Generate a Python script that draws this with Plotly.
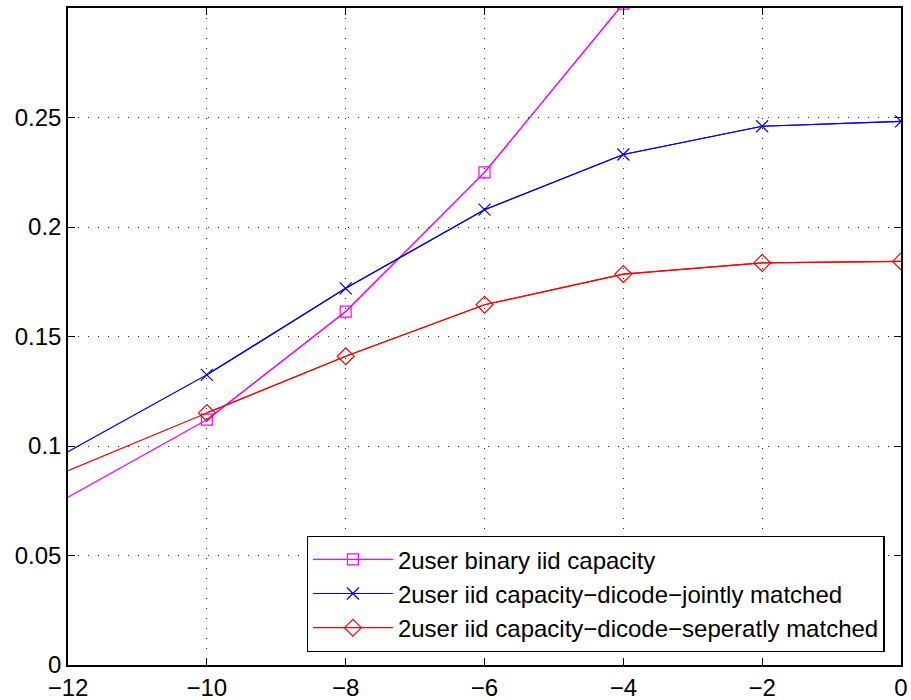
import plotly.graph_objects as go

x_vals = [-12, -10, -8, -6, -4, -2, 0]
binary_x = [-12, -10, -8, -6, -4]
binary_iid = [0.0766, 0.112, 0.1614, 0.2249, 0.302]
jointly = [0.0974, 0.1325, 0.172, 0.2079, 0.2331, 0.246, 0.2482]
seperatly = [0.0887, 0.1151, 0.141, 0.1645, 0.1785, 0.1836, 0.1843]

names = ["2user binary iid capacity",
         "2user iid capacity\u2212dicode\u2212jointly matched",
         "2user iid capacity\u2212dicode\u2212seperatly matched"]
colors = ["#ff00ff", "#0000ff", "#ff0000"]
symbols = ["square-open", "x-thin-open", "diamond-open"]
sizes = [11, 12, 13]

FONT = "Liberation Sans, Arial, Helvetica, sans-serif"

fig = go.Figure()
series = [(binary_x, binary_iid), (x_vals, jointly), (x_vals, seperatly)]
for i, (xs, ys) in enumerate(series):
    # full line (extends to left edge, no markers at the edge point)
    fig.add_trace(go.Scatter(x=xs, y=ys, mode="lines",
                             line=dict(color=colors[i], width=1.2),
                             showlegend=False, hoverinfo="skip"))
    fig.add_trace(go.Scatter(x=xs[1:], y=ys[1:], mode="lines+markers", name=names[i],
                             line=dict(color=colors[i], width=1.2),
                             marker=dict(symbol=symbols[i], size=sizes[i], color=colors[i],
                                         line=dict(color=colors[i], width=1.2))))

axis_common = dict(
    showline=True, linecolor="black", linewidth=1.5, mirror="ticks",
    ticks="inside", ticklen=7, tickwidth=1.2, tickcolor="black",
    showgrid=True, gridcolor="#222222", gridwidth=1, griddash="1px,9px",
    zeroline=False, tickfont=dict(family=FONT, size=24, color="black"),
    automargin=False,
)

fig.update_xaxes(range=[-12, 0], tickmode="array", tickvals=[-12, -10, -8, -6, -4, -2, 0],
                 ticktext=["\u221212", "\u221210", "\u22128", "\u22126", "\u22124", "\u22122", "0"],
                 **axis_common)
fig.update_yaxes(range=[0, 0.3], tickmode="array", tickvals=[0, 0.05, 0.1, 0.15, 0.2, 0.25],
                 ticktext=["0", "0.05", "0.1", "0.15", "0.2", "0.25"], **axis_common)

fig.update_layout(
    width=911, height=700,
    margin=dict(l=68, r=10, t=8, b=35),
    paper_bgcolor="white", plot_bgcolor="white",
    font=dict(family=FONT, size=24, color="black"),
    legend=dict(x=(306.7 - 68) / 833, y=(664.7 - 651.7) / 656.7, xanchor="left", yanchor="bottom",
                bgcolor="white", bordercolor="black", borderwidth=1.2,
                font=dict(family=FONT, size=24, color="black"),
                itemwidth=80, tracegroupgap=0),
)

fig.write_html("out.html")
